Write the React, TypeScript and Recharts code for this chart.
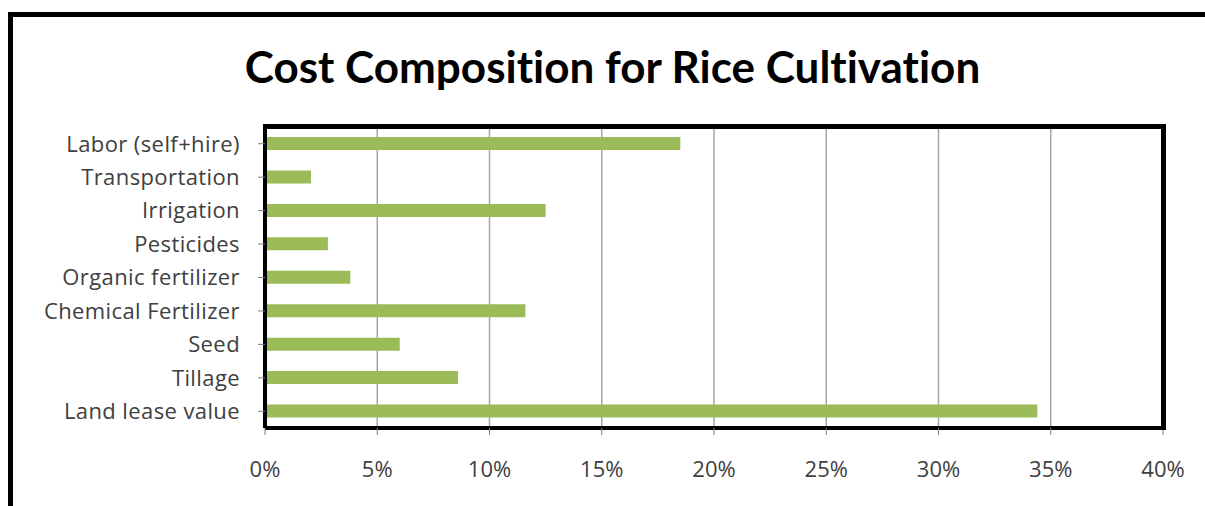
import { BarChart, Bar, XAxis, YAxis, CartesianGrid } from 'recharts'

const categories = [
  'Labor (self+hire)',
  'Transportation',
  'Irrigation',
  'Pesticides',
  'Organic fertilizer',
  'Chemical Fertilizer',
  'Seed',
  'Tillage',
  'Land lease value',
]
const shares = [0.185, 0.0205, 0.125, 0.028, 0.038, 0.116, 0.06, 0.086, 0.344]
const xTicks = [0, 0.05, 0.1, 0.15, 0.2, 0.25, 0.3, 0.35, 0.4]

const BAR_COLOR = '#9BBB59'
const TITLE_FONT = 'Lato, "Open Sans", sans-serif'
const TICK_FONT = '"Open Sans", Lato, sans-serif'

const data = categories.map((name, i) => ({ name, value: shares[i] }))

const fmtPct = (v: number) => `${Math.round(v * 100)}%`

export default function App() {
  return (
    <div
      style={{
        position: 'absolute', left: 0, top: 0, width: 1205, height: 506,
        background: '#fff', overflow: 'hidden',
      }}
    >
      {/* outer chart frame, runs off the right and bottom edges */}
      <div
        style={{
          position: 'absolute', left: 8, top: 12, width: 1240, height: 560,
          border: '5px solid #000', boxSizing: 'border-box',
        }}
      />
      <div
        style={{
          position: 'absolute', left: 0, top: 38, width: 1225, textAlign: 'center',
          fontFamily: TITLE_FONT, fontSize: 44, fontWeight: 700, color: '#000',
          lineHeight: '56px', fontVariantLigatures: 'none',
        }}
      >
        Cost Composition for Rice Cultivation
      </div>
      <div style={{ position: 'absolute', left: 0, top: 0 }}>
        <BarChart
          width={1205}
          height={506}
          data={data}
          layout="vertical"
          margin={{ top: 127, right: 42, bottom: 38, left: 0 }}
        >
          <CartesianGrid horizontal={false} stroke="#a6a6a6" strokeWidth={1.5} />
          <XAxis
            type="number"
            domain={[0, 0.4]}
            ticks={xTicks}
            tickFormatter={fmtPct}
            height={40}
            tickSize={7}
            tickMargin={26}
            tick={{ fontSize: 22, fill: '#404040', fontFamily: TICK_FONT }}
            axisLine={{ stroke: '#000', strokeWidth: 4 }}
            tickLine={{ stroke: '#808080' }}
          />
          <YAxis
            type="category"
            dataKey="name"
            width={265}
            tickSize={7}
            tickMargin={18}
            tick={{ fontSize: 22, fill: '#404040', fontFamily: TICK_FONT, letterSpacing: 0.4 }}
            axisLine={{ stroke: '#000', strokeWidth: 4 }}
            tickLine={{ stroke: '#808080' }}
            interval={0}
          />
          <Bar dataKey="value" fill={BAR_COLOR} barSize={13} isAnimationActive={false} />
        </BarChart>
      </div>
      {/* top and right edges of the plot frame */}
      <div
        style={{
          position: 'absolute', left: 263, top: 124, width: 903, height: 306,
          borderTop: '5px solid #000', borderRight: '5px solid #000',
          boxSizing: 'border-box', pointerEvents: 'none',
        }}
      />
    </div>
  )
}
